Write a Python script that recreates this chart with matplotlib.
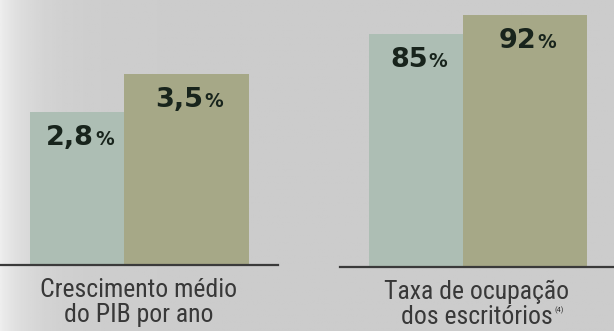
import numpy as np
import matplotlib.pyplot as plt

# values per panel: (earlier, later)
pib_values = [2.8, 3.5]
ocupacao_values = [85, 92]
pib_labels = ["2,8", "3,5"]
ocupacao_labels = ["85", "92"]
pib_title = ["Crescimento médio", "do PIB por ano"]
ocupacao_title = ["Taxa de ocupação", "dos escritórios"]
ocupacao_note = "(4)"

bar_colors = ["#adbeb4", "#a6a887"]
paper = "#cdcdcb"
ink = "#18241c"
grey_ink = "#383838"
title_fonts = ["Roboto Condensed", "DejaVu Sans"]
PX = 72 / 100  # points per pixel at dpi 100

W, H = 614, 331
fig = plt.figure(figsize=(W / 100, H / 100), dpi=100)
fig.patch.set_facecolor(paper)

# paper tone: lighter strip on the left edge
bg = fig.add_axes([0, 0, 1, 1], zorder=-10)
xx = np.linspace(0, 1, 300)
shade = 0.80 + 0.13 * np.exp(-xx / 0.05)
bg.imshow(np.tile(shade, (50, 1)), cmap="gray", vmin=0, vmax=1, aspect="auto",
          extent=[0, 1, 0, 1])
bg.set_axis_off()


def panel(left_px, right_px, base_px, offset_px, widths_px, values, labels,
          px_per_unit, title, note=None):
    ax = fig.add_axes([left_px / W, (H - base_px) / H,
                       (right_px - left_px) / W, base_px / H])
    lefts = np.concatenate([[0], np.cumsum(widths_px[:-1])])
    ax.bar(lefts, values, width=widths_px, align="edge", color=bar_colors,
           edgecolor="none")
    ax.set_xlim(-offset_px, right_px - left_px - offset_px)
    ax.set_ylim(0, base_px / px_per_unit)
    ax.set_facecolor("none")
    for s in ["top", "right", "left"]:
        ax.spines[s].set_visible(False)
    ax.spines["bottom"].set_color("#3a3a3a")
    ax.spines["bottom"].set_linewidth(1.6)
    ax.set_xticks([])
    ax.set_yticks([])

    # value label: number plus a smaller percent sign on the same baseline
    for x0, w, v, lab in zip(lefts, widths_px, values, labels):
        t = ax.annotate(lab, xy=(x0 + w / 2, v), xytext=(-7 * PX, -33 * PX),
                        textcoords="offset points", ha="center",
                        va="baseline", fontsize=19.5, fontweight="bold",
                        color=ink, family="DejaVu Sans")
        ax.annotate("%", xy=(1, v), xycoords=(t, "data"),
                    xytext=(1 * PX, -33 * PX), textcoords="offset points",
                    ha="left", va="baseline", fontsize=13.5,
                    fontweight="bold", color=ink, family="DejaVu Sans")

    l1 = ax.text(0.5, -32 / base_px, title[0], transform=ax.transAxes,
                 ha="center", va="baseline", fontsize=18.5, color=grey_ink,
                 family=title_fonts)
    l2 = ax.text(0.5, -57 / base_px, title[1], transform=ax.transAxes,
                 ha="center", va="baseline", fontsize=18.5, color=grey_ink,
                 family=title_fonts)
    if note:
        ax.annotate(note, xy=(1, 1), xycoords=l2, xytext=(1, -1),
                    textcoords="offset points", ha="left", va="top",
                    fontsize=6, color=grey_ink, family=title_fonts)
    return ax


panel(0, 278, 265, 30, [94, 125], pib_values, pib_labels, 54.6, pib_title)
panel(340, 614, 267, 29, [94, 124], ocupacao_values, ocupacao_labels, 2.74,
      ocupacao_title, ocupacao_note)

fig.savefig("out.png", dpi=100, facecolor=fig.get_facecolor())
